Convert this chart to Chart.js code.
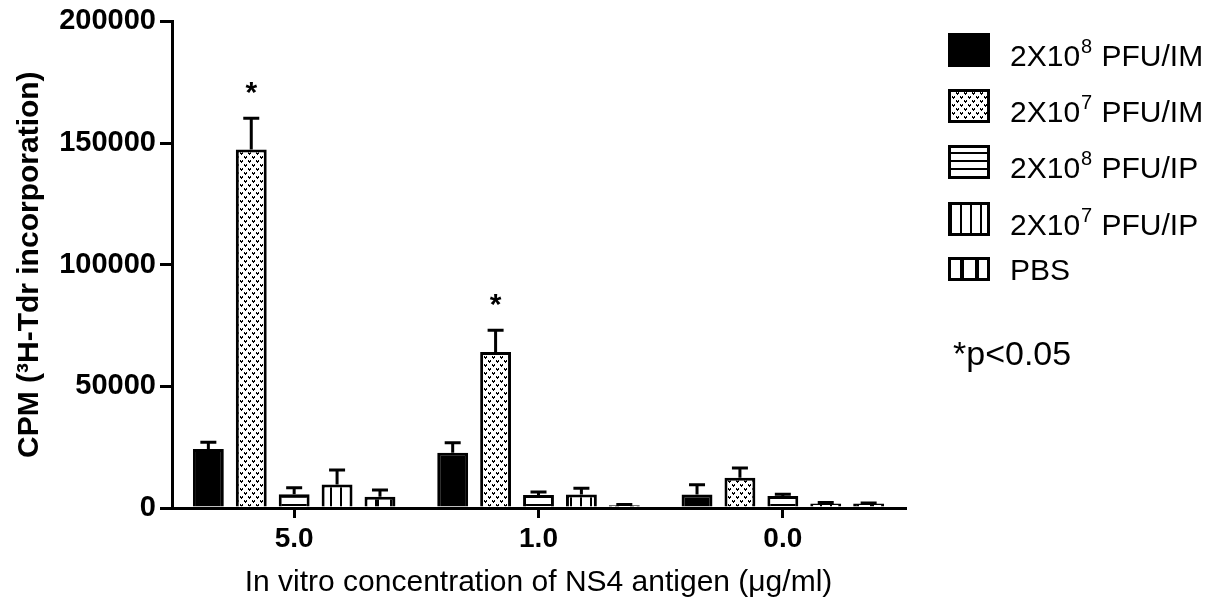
<!DOCTYPE html>
<html>
<head>
<meta charset="utf-8">
<script src="https://cdn.jsdelivr.net/npm/chart.js@4.4.0/dist/chart.umd.min.js"></script>
<style>
  html, body { margin: 0; background: #fff; }
  canvas { display: block; }
</style>
</head>
<body>
<canvas id="chart" width="1211" height="602"></canvas>
<script>
// categories and series
const categories = ['5.0', '1.0', '0.0'];
const seriesNames = ['2X10^8 PFU/IM', '2X10^7 PFU/IM', '2X10^8 PFU/IP', '2X10^7 PFU/IP', 'PBS'];

const im8 = [24200, 22700, 5600];
const im8Err = [2800, 4100, 4000];
const im7 = [147400, 64100, 12400];
const im7Err = [12800, 9000, 4000];
const ip8 = [5700, 5300, 4900];
const ip8Err = [2600, 1300, 800];
const ip7 = [9700, 5600, 1900];
const ip7Err = [5900, 2500, 400];
const pbs = [4600, 1100, 1800];
const pbsErr = [2800, 300, 300];

const significant = [[1, 0], [1, 1]]; // [series, category] with an asterisk
const yTicks = [0, 50000, 100000, 150000, 200000];

const FONT = "'Liberation Sans', Arial, sans-serif";
Chart.defaults.font.family = FONT;
Chart.defaults.color = '#000';

function makePattern(kind) {
  const c = document.createElement('canvas');
  const g = c.getContext('2d');
  if (kind === 'dots') {
    c.width = 8; c.height = 8;
    g.fillStyle = '#fff'; g.fillRect(0, 0, 8, 8);
    g.fillStyle = '#000';
    g.fillRect(0, 0, 1, 2); g.fillRect(2, 0, 1, 2); g.fillRect(1, 1, 1, 2);
    g.fillRect(4, 4, 1, 2); g.fillRect(6, 4, 1, 2); g.fillRect(5, 5, 1, 2);
  } else if (kind === 'hlines') {
    c.width = 8; c.height = 8;
    g.fillStyle = '#fff'; g.fillRect(0, 0, 8, 8);
    g.fillStyle = '#000'; g.fillRect(0, 0, 8, 2);
  } else if (kind === 'vlines') {
    c.width = 10; c.height = 8;
    g.fillStyle = '#fff'; g.fillRect(0, 0, 10, 8);
    g.fillStyle = '#000'; g.fillRect(0, 0, 2, 8);
  } else {
    c.width = 15; c.height = 8;
    g.fillStyle = '#fff'; g.fillRect(0, 0, 15, 8);
    g.fillStyle = '#000'; g.fillRect(0, 0, 4, 8);
  }
  const ctx = document.getElementById('chart').getContext('2d');
  return ctx.createPattern(c, 'repeat');
}

const fills = ['#000', makePattern('dots'), makePattern('hlines'), makePattern('vlines'), makePattern('thick')];
const values = [im8, im7, ip8, ip7, pbs];
const errors = [im8Err, im7Err, ip8Err, ip7Err, pbsErr];

const extras = {
  id: 'extras',
  afterDatasetsDraw(chart) {
    const ctx = chart.ctx;
    const y = chart.scales.y;
    ctx.save();
    ctx.strokeStyle = '#000';
    ctx.lineWidth = 3;
    values.forEach((vals, i) => {
      const meta = chart.getDatasetMeta(i);
      meta.data.forEach((bar, j) => {
        const top = y.getPixelForValue(vals[j] + errors[i][j]);
        ctx.beginPath();
        ctx.moveTo(bar.x, bar.y);
        ctx.lineTo(bar.x, top);
        ctx.moveTo(bar.x - 8, top);
        ctx.lineTo(bar.x + 8, top);
        ctx.stroke();
      });
    });
    ctx.fillStyle = '#000';
    ctx.font = 'bold 30px ' + FONT;
    ctx.textAlign = 'center';
    ctx.textBaseline = 'alphabetic';
    significant.forEach(([i, j]) => {
      const bar = chart.getDatasetMeta(i).data[j];
      const top = y.getPixelForValue(values[i][j] + errors[i][j]);
      ctx.fillText('*', bar.x, top - 16);
    });
    ctx.restore();
  },
  afterDraw(chart) {
    const ctx = chart.ctx;
    ctx.save();
    const baselines = [66, 122, 178, 235, 280];
    seriesNames.forEach((name, i) => {
      const bh = i === 4 ? 24 : 34;
      const by = baselines[i] + 1 - bh;
      ctx.fillStyle = fills[i];
      ctx.fillRect(948, by, 42, bh);
      ctx.strokeStyle = '#000';
      ctx.lineWidth = 3;
      ctx.strokeRect(949.5, by + 1.5, 39, bh - 3);
      ctx.fillStyle = '#000';
      ctx.textAlign = 'left';
      ctx.textBaseline = 'alphabetic';
      const parts = name.split('^');
      let x = 1010;
      ctx.font = '30px ' + FONT;
      ctx.fillText(parts[0], x, baselines[i]);
      x += ctx.measureText(parts[0]).width;
      if (parts.length > 1) {
        const sup = parts[1].charAt(0);
        const rest = parts[1].slice(1);
        ctx.font = '20px ' + FONT;
        ctx.fillText(sup, x + 1, baselines[i] - 13);
        x += ctx.measureText(sup).width + 2;
        ctx.font = '30px ' + FONT;
        ctx.fillText(rest, x, baselines[i]);
      }
    });
    ctx.font = '34px ' + FONT;
    ctx.fillText('*p<0.05', 953, 365);
    ctx.restore();
  }
};

new Chart(document.getElementById('chart'), {
  type: 'bar',
  data: {
    labels: categories,
    datasets: values.map((vals, i) => ({
      label: seriesNames[i],
      data: vals,
      backgroundColor: fills[i],
      borderColor: '#000',
      borderWidth: 3,
      borderSkipped: 'bottom',
      categoryPercentage: 0.878,
      barPercentage: 0.72
    }))
  },
  options: {
    responsive: false,
    animation: false,
    layout: { padding: { top: 21, right: 306, left: 0, bottom: 0 } },
    plugins: { legend: { display: false }, tooltip: { enabled: false } },
    scales: {
      x: {
        offset: true,
        grid: { display: true, drawOnChartArea: false, offset: false, tickLength: 10, lineWidth: 3, color: '#000' },
        border: { display: true, width: 3, color: '#000' },
        ticks: { font: { size: 28, weight: 'bold' }, color: '#000', padding: 4 },
        title: {
          display: true,
          text: 'In vitro concentration of NS4 antigen (\u03bcg/ml)',
          font: { size: 30 },
          color: '#000',
          padding: { top: 0, bottom: 1 }
        },
        afterFit(scale) { scale.height = 94; }
      },
      y: {
        min: 0,
        max: 200000,
        afterBuildTicks(scale) { scale.ticks = yTicks.map(v => ({ value: v })); },
        grid: { display: true, drawOnChartArea: false, tickLength: 12, lineWidth: 3, color: '#000' },
        border: { display: true, width: 3, color: '#000' },
        ticks: { font: { size: 29, weight: 'bold' }, color: '#000', padding: 4, callback: v => String(v) },
        title: {
          display: true,
          text: 'CPM (\u00b3H-Tdr incorporation)',
          font: { size: 30, weight: 'bold' },
          color: '#000',
          padding: { top: 12, bottom: 0 }
        },
        afterFit(scale) { scale.width = 172; }
      }
    }
  },
  plugins: [extras]
});
</script>
</body>
</html>
